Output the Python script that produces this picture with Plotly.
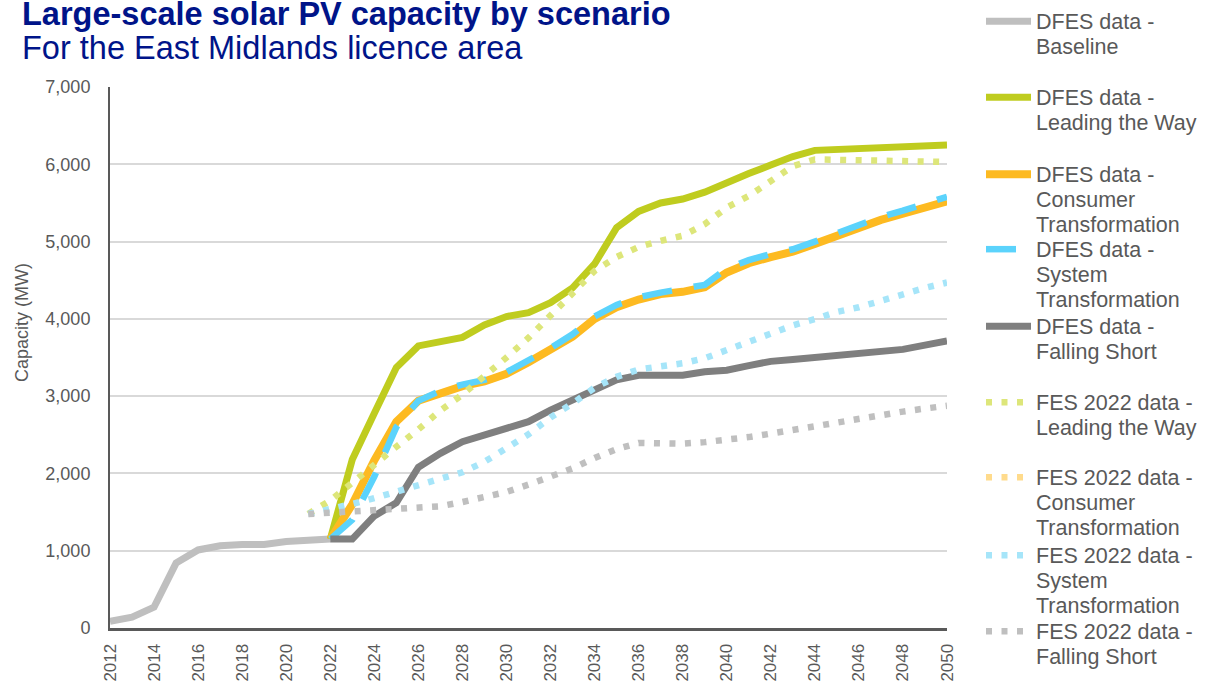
import plotly.graph_objects as go

# ---------------- data ----------------
baseline_years = list(range(2012, 2023))
baseline_mw = [85, 140, 270, 840, 1010, 1065, 1080, 1080, 1120, 1140, 1150]

dfes_years = list(range(2022, 2051))
dfes_leading_the_way = [1150, 2180, 2780, 3370, 3650, 3700, 3760, 3920, 4030, 4080,
                        4210, 4400, 4710, 5180, 5390, 5500, 5550, 5640, 5770, 5880,
                        5990, 6100, 6180, 6195, 6205, 6215, 6230, 6240, 6250]
dfes_consumer_transformation = [1150, 1600, 2170, 2670, 2940, 3040, 3130, 3190, 3290, 3440,
                                3600, 3770, 4000, 4150, 4250, 4320, 4350, 4410, 4600, 4720,
                                4800, 4870, 4970, 5080, 5180, 5280, 5360, 5440, 5520]
dfes_system_transformation = [1150, 1400, 1960, 2600, 2940, 3070, 3150, 3210, 3310, 3460,
                              3620, 3800, 4030, 4180, 4280, 4340, 4380, 4440, 4650, 4760,
                              4840, 4900, 5000, 5110, 5220, 5320, 5400, 5490, 5580]
dfes_falling_short = [1150, 1150, 1450, 1620, 2080, 2260, 2410, 2500, 2580, 2670,
                      2820, 2950, 3100, 3210, 3270, 3270, 3270, 3315, 3335, 3395,
                      3450, 3475, 3500, 3530, 3560, 3590, 3605, 3660, 3715]

fes_years = list(range(2021, 2051))
fes_leading_the_way = [1475, 1650, 1880, 2120, 2345, 2570, 2815, 3020, 3250, 3500,
                       3755, 4050, 4330, 4620, 4800, 4930, 5010, 5075, 5225, 5440,
                       5590, 5790, 5975, 6063, 6060, 6055, 6050, 6045, 6037, 6030]
# no points of this series are visible in the chart (legend entry only)
fes_consumer_transformation = [None] * len(fes_years)
fes_system_transformation = [1475, 1530, 1605, 1680, 1760, 1840, 1920, 2015, 2150, 2330,
                             2506, 2725, 2905, 3110, 3250, 3345, 3385, 3425, 3490, 3595,
                             3700, 3807, 3915, 3997, 4090, 4150, 4240, 4325, 4400, 4470]
fes_falling_short = [1475, 1490, 1500, 1510, 1530, 1550, 1575, 1630, 1690, 1760,
                     1855, 1950, 2065, 2200, 2315, 2395, 2385, 2385, 2405, 2430,
                     2470, 2515, 2565, 2605, 2655, 2705, 2750, 2800, 2840, 2875]

x_ticks = list(range(2012, 2051, 2))
y_ticks = [0, 1000, 2000, 3000, 4000, 5000, 6000, 7000]

# ---------------- layout constants ----------------
W, H = 1205, 684
ML, MR, MT, MB = 110, 258, 87, 56
FONT = "Liberation Sans, Arial, sans-serif"
GREY_TXT = "#595959"


def big(lines):
    return "<br>".join(f'<span style="font-size:21.5px">{t}</span>' for t in lines)


fig = go.Figure()

series = [
    (baseline_years, baseline_mw, ["DFES data -", "Baseline"], "#BFBFBF", 7, "solid", 22),
    (dfes_years, dfes_leading_the_way, ["DFES data -", "Leading the Way"], "#BFCC1F", 7, "solid", 98),
    (dfes_years, dfes_consumer_transformation, ["DFES data -", "Consumer", "Transformation"], "#FDBA21", 8, "solid", 175),
    (dfes_years, dfes_system_transformation, ["DFES data -", "System", "Transformation"], "#5BD3FC", 6.5, "30px,22px", 250),
    (dfes_years, dfes_falling_short, ["DFES data -", "Falling Short"], "#7F7F7F", 7, "solid", 327),
    (fes_years, fes_leading_the_way, ["FES 2022 data -", "Leading the Way"], "#DDE67A", 6.5, "6px,9.5px", 403),
    (fes_years, fes_consumer_transformation, ["FES 2022 data -", "Consumer", "Transformation"], "#FFDB8C", 6.5, "6px,9.5px", 478),
    (fes_years, fes_system_transformation, ["FES 2022 data -", "System", "Transformation"], "#A6E5F9", 6.5, "6px,9.5px", 556),
    (fes_years, fes_falling_short, ["FES 2022 data -", "Falling Short"], "#BFBFBF", 6.5, "6px,9.5px", 632),
]

legend_layout = {}
for i, (xs, ys, lines, color, width, dash, ly) in enumerate(series):
    lg = f"legend{i+2}"
    fig.add_trace(go.Scatter(
        x=xs, y=ys, mode="lines", name=big(lines),
        line=dict(color=color, width=width, dash=dash),
        legend=lg, showlegend=True, connectgaps=False,
    ))
    legend_layout[lg] = dict(
        xref="container", yref="container",
        x=981 / W, y=1 - (ly - 20) / H,
        xanchor="left", yanchor="top",
        font=dict(family=FONT, size=19.5, color=GREY_TXT),
        bgcolor="rgba(0,0,0,0)", borderwidth=0,
        valign="top", itemwidth=45,
    )

fig.update_layout(
    width=W, height=H,
    margin=dict(l=ML, r=MR, t=MT, b=MB),
    paper_bgcolor="white", plot_bgcolor="white",
    font=dict(family=FONT, color=GREY_TXT),
    showlegend=True,
    **legend_layout,
)

fig.update_xaxes(
    range=[2012, 2050], tickvals=x_ticks, ticktext=[str(v) for v in x_ticks],
    tickangle=-90, tickfont=dict(family=FONT, size=17, color=GREY_TXT),
    showgrid=False, zeroline=False, automargin=False,
    showline=True, linecolor="#595959", linewidth=3,
    ticks="", ticklabelstandoff=6,
)
fig.update_yaxes(
    range=[0, 7000], tickvals=y_ticks, ticktext=[f"{v:,}" for v in y_ticks],
    tickfont=dict(family=FONT, size=18, color=GREY_TXT),
    showgrid=True, gridcolor="#D9D9D9", gridwidth=1.5, automargin=False,
    zeroline=False, showline=True, linecolor="#595959", linewidth=2,
    ticks="", ticklabelstandoff=14,
)


def px_x(px):
    return (px - ML) / (W - ML - MR)


def px_y(py):
    return (H - MB - py) / (H - MT - MB)


fig.add_annotation(
    text="<b>Large-scale solar PV capacity by scenario</b>",
    xref="paper", yref="paper", x=px_x(20), y=px_y(14),
    xanchor="left", yanchor="middle", showarrow=False,
    font=dict(family=FONT, size=32.5, color="#001489"),
)
fig.add_annotation(
    text="For the East Midlands licence area",
    xref="paper", yref="paper", x=px_x(20), y=px_y(48),
    xanchor="left", yanchor="middle", showarrow=False,
    font=dict(family=FONT, size=32.5, color="#001489"),
)
fig.add_annotation(
    text="Capacity (MW)",
    xref="paper", yref="paper", x=px_x(22), y=px_y(323),
    xanchor="center", yanchor="middle", showarrow=False, textangle=-90,
    font=dict(family=FONT, size=18, color=GREY_TXT),
)

fig.write_html("out.html", config={"displayModeBar": False},
               post_script="document.body.style.margin='0px';")
